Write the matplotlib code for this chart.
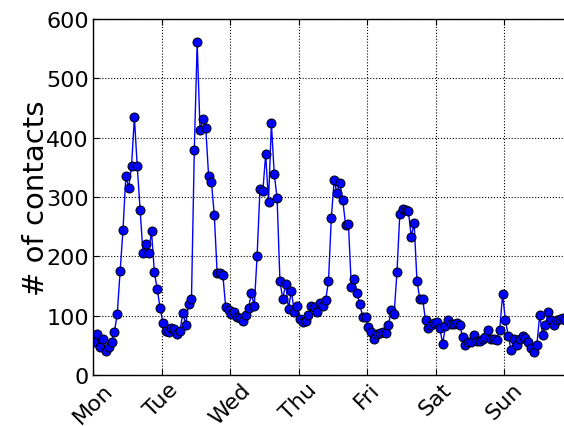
#!/usr/bin/env python3
"""Hourly number of contacts over one week (Mon..Sun)."""
import matplotlib
matplotlib.use("Agg")
import matplotlib.pyplot as plt
import numpy as np

DAYS = ["Mon", "Tue", "Wed", "Thu", "Fri", "Sat", "Sun"]
HOURS_PER_DAY = 24

# contacts per hour
mon = [55, 69, 48, 60, 41, 47, 56, 73, 103, 175, 244, 335, 316, 352, 434, 352,
       278, 206, 221, 206, 242, 173, 145, 113]
tue = [88, 75, 72, 79, 77, 69, 75, 105, 85, 120, 128, 380, 561, 413, 431, 417,
       336, 325, 269, 172, 172, 168, 114, 109]
wed = [103, 107, 97, 96, 91, 101, 113, 138, 116, 201, 313, 310, 372, 292, 424, 339,
       298, 158, 128, 154, 112, 142, 106, 117]
thu = [95, 90, 91, 101, 117, 115, 107, 122, 117, 126, 158, 265, 328, 306, 323, 295,
       253, 254, 149, 162, 138, 119, 98, 98]
fri = [81, 72, 60, 69, 71, 72, 70, 84, 109, 103, 173, 272, 279, 278, 276, 233,
       257, 159, 128, 128, 92, 80, 84, 87]
sat = [90, 79, 53, 82, 93, 86, 86, 87, 84, 64, 51, 55, 56, 67, 57, 58,
       60, 64, 76, 60, 60, 59, 76, 136]
sun = [92, 66, 42, 60, 50, 60, 66, 62, 56, 45, 38, 50, 101, 68, 84, 107,
       92, 85, 92, 94, 96, 93]


def main():
    counts = np.array(mon + tue + wed + thu + fri + sat + sun, dtype=float)
    hours = np.arange(len(counts)) + 0.5

    plt.rcParams["font.family"] = ["DejaVu Sans"]
    fig = plt.figure(figsize=(5.64, 4.27), dpi=100, facecolor="white")
    ax = fig.add_axes([93 / 564, 51 / 427, 479.5 / 564, 356 / 427])

    ax.plot(hours, counts, "-", color="blue", linewidth=1.0,
            marker="o", markersize=6.5, markerfacecolor="blue",
            markeredgecolor="black", markeredgewidth=0.7)

    ax.set_xlim(0, HOURS_PER_DAY * len(DAYS))
    ax.set_ylim(0, 600)
    ax.set_xticks(np.arange(len(DAYS)) * HOURS_PER_DAY)
    ax.set_xticklabels(DAYS, rotation=45)
    ax.set_yticks(np.arange(0, 601, 100))
    ax.tick_params(direction="in", length=4, width=0.8, labelsize=16,
                   top=True, right=True, pad=3)
    ax.set_ylabel("# of contacts", fontsize=21, labelpad=-3)
    ax.grid(True, color="black", linestyle=":", linewidth=0.8)
    for spine in ax.spines.values():
        spine.set_linewidth(1.0)

    fig.savefig("out.png", dpi=100, facecolor="white")


if __name__ == "__main__":
    main()
